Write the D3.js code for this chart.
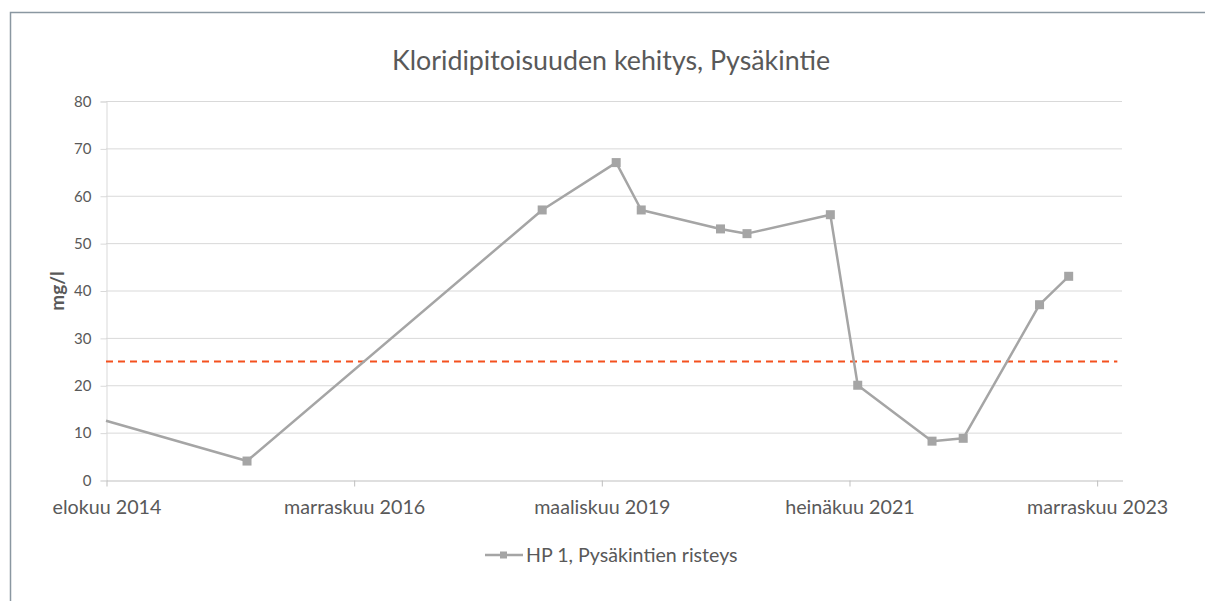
<!DOCTYPE html>
<html>
<head>
<meta charset="utf-8">
<script src="https://cdn.jsdelivr.net/npm/d3@7"></script>
<style>
  body { margin: 0; background: #fff; }
  svg text { font-family: Lato, "Open Sans", sans-serif; fill: #595959; }
</style>
</head>
<body>
<svg id="chart"></svg>
<script>
// data
const sampleDates = ["2014-08-01", "2015-11-28", "2018-09-06", "2019-05-18", "2019-08-12", "2020-05-10",
  "2020-08-09", "2021-05-22", "2021-08-24", "2022-05-06", "2022-08-21", "2023-05-10", "2023-08-18"];
const chloride = [12.5, 4, 57, 67, 57, 53, 52, 56, 20, 8.2, 8.8, 37, 43];
const limitDates = ["2014-08-01", "2024-02-01"];
const limitValue = 25;
const yTicks = [0, 10, 20, 30, 40, 50, 60, 70, 80];
const xDomain = ["2014-08-01", "2024-02-17"];
const tickStepDays = 850;

const titleText = "Kloridipitoisuuden kehitys, Pysäkintie";
const seriesName = "HP 1, Pysäkintien risteys";
const yLabel = "mg/l";

let width = 1205;
let height = 601;

const parse = d3.timeParse("%Y-%m-%d");

// finnish month names for the date axis
const fi = d3.timeFormatLocale({
    dateTime: "%A, %-d. %Bta %Y klo %X",
    date: "%-d.%-m.%Y",
    time: "%H:%M:%S",
    periods: ["a.m.", "p.m."],
    days: ["sunnuntai", "maanantai", "tiistai", "keskiviikko", "torstai", "perjantai", "lauantai"],
    shortDays: ["Su", "Ma", "Ti", "Ke", "To", "Pe", "La"],
    months: ["tammikuu", "helmikuu", "maaliskuu", "huhtikuu", "toukokuu", "kesäkuu",
        "heinäkuu", "elokuu", "syyskuu", "lokakuu", "marraskuu", "joulukuu"],
    shortMonths: ["Tammi", "Helmi", "Maalis", "Huhti", "Touko", "Kesä", "Heinä", "Elo", "Syys", "Loka", "Marras", "Joulu"]
});
const fmtMonth = fi.format("%B %Y");

let svg = d3.select("#chart")
    .attr("width", width)
    .attr("height", height);

// chart frame (only top and left edges are visible in the crop)
svg.append("path")
    .attr("d", "M10.5,601 V12.5 H1205")
    .attr("fill", "none")
    .attr("stroke", "#8a97a1")
    .attr("stroke-width", 1.5);

let x = d3.scaleTime()
    .domain(xDomain.map(parse))
    .range([106, 1122]);

let y = d3.scaleLinear()
    .domain([0, 80])
    .range([480, 101]);

let start = x.domain()[0];
let xTicks = d3.range(0, 5).map(k => d3.timeDay.offset(start, k * tickStepDays));

// gridlines
svg.append("g")
    .selectAll("line")
    .data(yTicks.filter(d => d > 0))
    .enter()
    .append("line")
    .attr("x1", 106).attr("x2", 1122)
    .attr("y1", d => y(d) + 0.5).attr("y2", d => y(d) + 0.5)
    .attr("stroke", "#d9d9d9")
    .attr("stroke-width", 1);

// y axis
let yAxis = svg.append("g")
    .attr("transform", "translate(106.5,0.5)")
    .call(d3.axisLeft(y).tickValues(yTicks).tickSize(6).tickPadding(9));
yAxis.select(".domain").attr("stroke", "#d9d9d9");
yAxis.selectAll(".tick line").attr("stroke", "#d9d9d9");
yAxis.selectAll(".tick text")
    .style("font-size", "15px")
    .attr("fill", "#595959");

// x axis
let xAxis = svg.append("g")
    .attr("transform", "translate(0.5,480.5)")
    .call(d3.axisBottom(x).tickValues(xTicks).tickFormat(fmtMonth).tickSize(6).tickPadding(14).tickSizeOuter(0));
xAxis.select(".domain").attr("stroke", "#bfbfbf");
xAxis.selectAll(".tick line").attr("stroke", "#bfbfbf");
xAxis.selectAll(".tick text")
    .style("font-size", "19.7px")
    .attr("fill", "#595959");

// limit line
svg.append("line")
    .attr("x1", x(parse(limitDates[0])))
    .attr("x2", x(parse(limitDates[1])))
    .attr("y1", y(limitValue))
    .attr("y2", y(limitValue))
    .attr("stroke", "#f4511e")
    .attr("stroke-width", 2)
    .attr("stroke-dasharray", "7,5");

let points = sampleDates.map((d, i) => ({ date: parse(d), value: chloride[i] }));

let line = d3.line()
    .x(d => x(d.date))
    .y(d => y(d.value));

svg.append("path")
    .datum(points)
    .attr("d", line)
    .attr("fill", "none")
    .attr("stroke", "#a5a5a5")
    .attr("stroke-width", 2.5)
    .attr("stroke-linejoin", "round");

// markers (the first sample sits on the axis edge and its marker is cut off)
let m = 9;
svg.append("g")
    .selectAll("rect")
    .data(points.filter(d => d.date > start))
    .enter()
    .append("rect")
    .attr("x", d => x(d.date) - m / 2)
    .attr("y", d => y(d.value) - m / 2)
    .attr("width", m)
    .attr("height", m)
    .attr("fill", "#a5a5a5");

// title
svg.append("text")
    .attr("x", 611)
    .attr("y", 70)
    .attr("text-anchor", "middle")
    .style("font-size", "26.8px")
    .text(titleText);

// y axis title
svg.append("text")
    .attr("transform", "translate(64,291) rotate(-90)")
    .attr("text-anchor", "middle")
    .style("font-size", "19px")
    .style("font-weight", "bold")
    .text(yLabel);

// legend
let legend = svg.append("g").attr("transform", "translate(485,555)");
legend.append("line")
    .attr("x1", 0).attr("x2", 38)
    .attr("stroke", "#a5a5a5")
    .attr("stroke-width", 2.5);
legend.append("rect")
    .attr("x", 15).attr("y", -3.5)
    .attr("width", 7).attr("height", 7)
    .attr("fill", "#a5a5a5");
legend.append("text")
    .attr("x", 41)
    .attr("y", 7)
    .style("font-size", "19.6px")
    .text(seriesName);
</script>
</body>
</html>
